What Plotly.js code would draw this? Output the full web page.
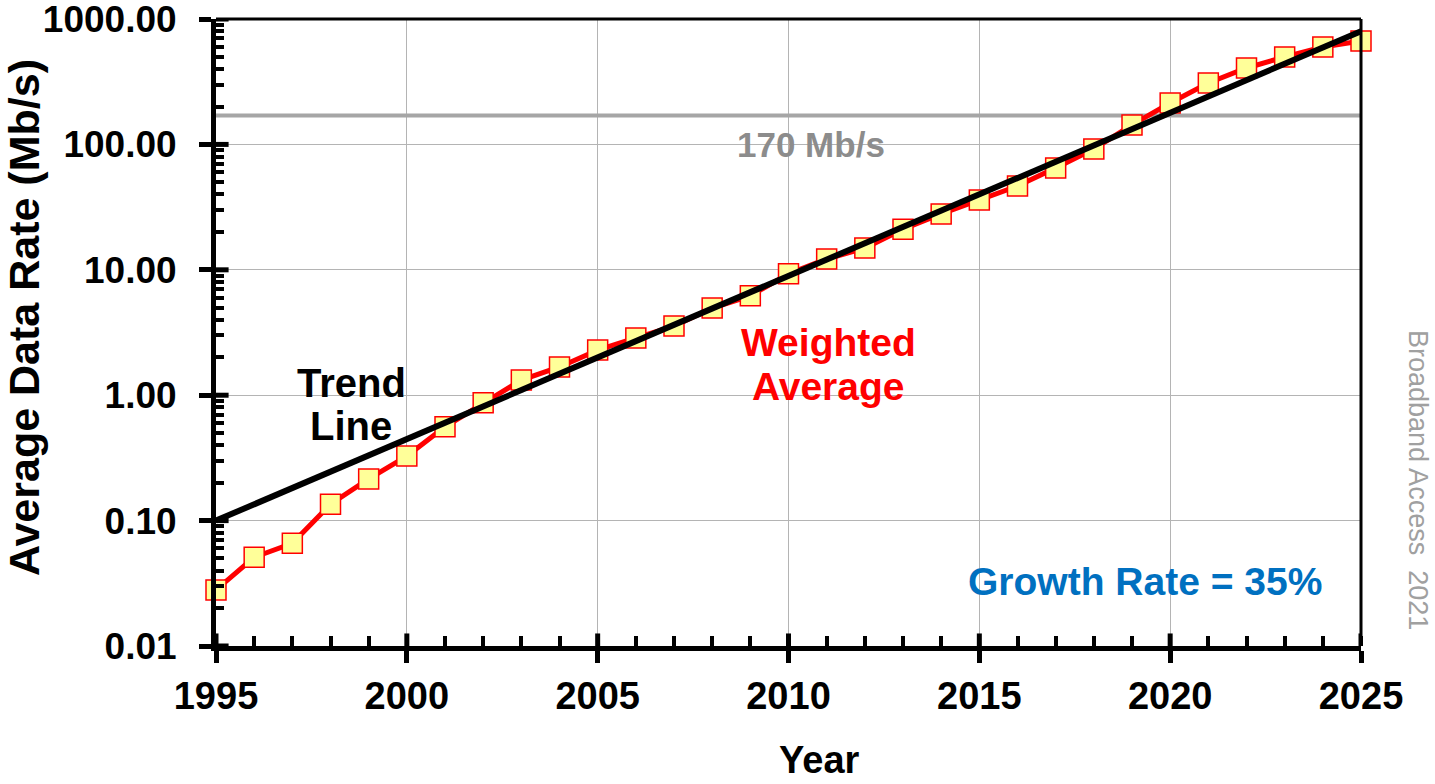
<!DOCTYPE html>
<html>
<head>
<meta charset="utf-8">
<script src="https://cdn.plot.ly/plotly-3.0.1.min.js"></script>
<style>html,body{margin:0;padding:0;background:#fff;}#chart{width:1435px;height:784px;}</style>
</head>
<body>
<div id="chart"></div>
<script>
// Data
const years = [1995,1996,1997,1998,1999,2000,2001,2002,2003,2004,2005,2006,2007,2008,2009,2010,2011,2012,2013,2014,2015,2016,2017,2018,2019,2020,2021,2022,2023,2024,2025];
const weightedAvg = [0.028,0.051,0.066,0.135,0.215,0.327,0.56,0.87,1.32,1.68,2.29,2.86,3.56,4.96,6.2,9.3,12.2,14.9,21.1,27.9,36,46.6,65,92,143,214,309,407,498,598,668];
const trendYears = [1995,2025];
const trendValues = [0.1,800];
const refLineYears = [1995,2025];
const refLineValue = [170,170];
const yTickVals = [0.01,0.1,1,10,100,1000];
const yTickText = ['0.01','0.10','1.00','10.00','100.00','1000.00'];
const xTickVals = [1995,2000,2005,2010,2015,2020,2025];

const FONT = 'Liberation Sans, Arial, sans-serif';
const W = 1435, H = 784, ML = 216, MR = 74, MT = 19, MB = 138;
const PW = W - ML - MR, PH = H - MT - MB;
const px = x => (x - ML) / PW;
const py = y => 1 - (y - MT) / PH;

const minorY = [];
for (let e = -2; e < 3; e++) for (let m = 2; m <= 9; m++) minorY.push(m * Math.pow(10, e));

const traces = [
  {x: refLineYears, y: refLineValue, mode: 'lines', line: {color: '#a6a6a6', width: 4}, hoverinfo: 'skip'},
  {x: years, y: weightedAvg, mode: 'lines+markers', line: {color: '#ff0000', width: 5}, cliponaxis: false,
   marker: {symbol: 'square', size: 20, color: '#ffff99', line: {color: '#ff0000', width: 1.5}}},
  {x: trendYears, y: trendValues, mode: 'lines', line: {color: '#000000', width: 6}}
];

const shapes = [];
shapes.push({type:'line', xref:'x domain', yref:'y domain', x0:0, x1:1, y0:1, y1:1, line:{color:'#000', width:3}});
shapes.push({type:'line', xref:'x domain', yref:'y domain', x0:1, x1:1, y0:0, y1:1, line:{color:'#000', width:3}});
xTickVals.forEach(v => shapes.push({type:'line', xref:'x', yref:'y domain', x0:v, x1:v, y0:0, y1:0.02, line:{color:'#000', width:5}}));
yTickVals.forEach(v => shapes.push({type:'line', xref:'x domain', yref:'y', x0:0, x1:0.011, y0:v, y1:v, line:{color:'#000', width:5}}));

const boldFont = (size, color) => ({family: FONT, size: size, color: color, weight: 'bold'});
const ann = (text, x, y, font, extra) => Object.assign({text: text, xref:'paper', yref:'paper', x: px(x), y: py(y), xanchor:'center', yanchor:'middle', showarrow:false, font: font}, extra || {});

const annotations = [
  ann('Trend', 351, 383, boldFont(40,'#000')),
  ann('Line', 351, 426, boldFont(40,'#000')),
  ann('Weighted', 828, 342, boldFont(39,'#ff0000')),
  ann('Average', 828, 386, boldFont(39,'#ff0000')),
  ann('170 Mb/s', 811, 144, boldFont(35,'#8c8c8c')),
  ann('Growth Rate = 35%', 1145, 581, boldFont(39,'#0070c0')),
  ann('Broadband Access  2021', 1418, 480, {family:FONT, size:27, color:'#a0a0a0'}, {textangle:90}),
  ann('Average Data Rate (Mb/s)', 24, 318, boldFont(43,'#000'), {textangle:-90}),
  ann('Year', 819, 760, boldFont(38,'#000'))
];

const layout = {
  width: W, height: H,
  margin: {l:ML, r:MR, t:MT, b:MB},
  paper_bgcolor: '#fff', plot_bgcolor: '#fff',
  showlegend: false,
  xaxis: {
    range: [1995, 2025], tickmode: 'array', tickvals: xTickVals,
    ticks: 'outside', ticklen: 12, tickwidth: 5, tickcolor: '#000',
    showline: true, linecolor: '#000', linewidth: 5,
    showgrid: true, gridcolor: '#b4b4b4', gridwidth: 1,
    zeroline: false,
    ticklabeloverflow: 'allow',
    tickfont: boldFont(38, '#000'),
    minor: {tickmode: 'linear', dtick: 1, ticks: 'inside', ticklen: 10, tickwidth: 4, tickcolor: '#000', showgrid: false}
  },
  yaxis: {
    type: 'log', range: [-2, 3.0002], tickmode: 'array', tickvals: yTickVals, ticktext: yTickText,
    ticks: 'outside', ticklen: 12, tickwidth: 5, tickcolor: '#000',
    showline: true, linecolor: '#000', linewidth: 5,
    showgrid: true, gridcolor: '#b4b4b4', gridwidth: 1,
    zeroline: false,
    ticklabelstandoff: 15,
    ticklabeloverflow: 'allow',
    tickfont: boldFont(37, '#000'),
    minor: {tickmode: 'array', tickvals: minorY, ticks: 'inside', ticklen: 8, tickwidth: 4, tickcolor: '#000', showgrid: false}
  },
  shapes: shapes,
  annotations: annotations
};

Plotly.newPlot('chart', traces, layout, {displayModeBar: false, staticPlot: true});
</script>
</body>
</html>
